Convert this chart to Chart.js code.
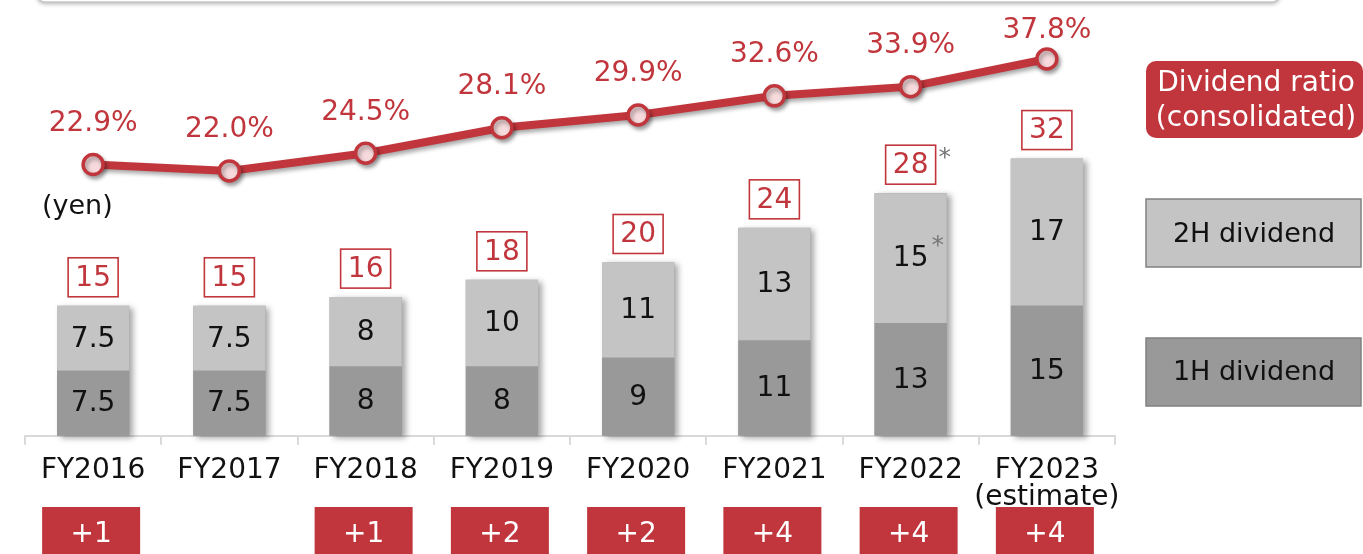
<!DOCTYPE html>
<html>
<head>
<meta charset="utf-8">
<script src="https://cdn.jsdelivr.net/npm/chart.js@4.4.1/dist/chart.umd.min.js"></script>
<style>
  html,body{margin:0;padding:0;background:#fff;overflow:hidden}
  #caja{position:relative;width:1363px;height:554px}
</style>
</head>
<body>
<div id="caja"><canvas id="grafica" width="1363" height="554"></canvas></div>
<script>
// datos
const etiquetas   = ['FY2016','FY2017','FY2018','FY2019','FY2020','FY2021','FY2022',['FY2023','(estimate)']];
const primerSem   = [7.5, 7.5, 8, 8, 9, 11, 13, 15];
const segundoSem  = [7.5, 7.5, 8, 10, 11, 13, 15, 17];
const totales     = [15, 15, 16, 18, 20, 24, 28, 32];
const ratio       = [22.9, 22.0, 24.5, 28.1, 29.9, 32.6, 33.9, 37.8];
const incremento  = [1, null, 1, 2, 2, 4, 4, 4];
const conNota     = [false, false, false, false, false, false, true, false];

const ROJO = '#C1363C';
const FUENTE = '"DejaVu Sans", Verdana, sans-serif';
const f = (s) => s + 'px ' + FUENTE;

const sombraBarras = {
  id:'sombraBarras',
  beforeDatasetsDraw(chart){
    const ctx = chart.ctx;
    const meta = chart.getDatasetMeta(1);
    const base = chart.scales.y.getPixelForValue(0);
    ctx.save();
    ctx.shadowColor = 'rgba(0,0,0,.35)';
    ctx.shadowBlur = 6;
    ctx.shadowOffsetX = 4;
    ctx.shadowOffsetY = 2;
    ctx.fillStyle = '#999';
    meta.data.forEach(b => {
      ctx.fillRect(b.x - b.width/2, b.y, b.width, base - b.y);
    });
    ctx.restore();
  },
  beforeDatasetDraw(chart, args){
    if(args.index !== 2) return;
    const ctx = chart.ctx;
    ctx.save();
    ctx.shadowColor = 'rgba(0,0,0,.35)';
    ctx.shadowBlur = 4;
    ctx.shadowOffsetX = 2;
    ctx.shadowOffsetY = 3;
  },
  afterDatasetDraw(chart, args){
    if(args.index !== 2) return;
    chart.ctx.restore();
  }
};

const rotulos = {
  id:'rotulos',
  afterDatasetsDraw(chart){
    const ctx = chart.ctx;
    const x = chart.scales.x;
    const m1 = chart.getDatasetMeta(0), m2 = chart.getDatasetMeta(1), ml = chart.getDatasetMeta(2);
    ctx.save();
    ctx.textAlign = 'center';
    ctx.textBaseline = 'middle';

    // valores dentro de las barras
    ctx.font = f(28);
    ctx.fillStyle = '#111';
    m1.data.forEach((b,i) => ctx.fillText(String(primerSem[i]), b.x, (b.y + b.base)/2 + 1));
    m2.data.forEach((b,i) => {
      ctx.fillText(String(segundoSem[i]), b.x, (b.y + b.base)/2 + 1);
      if(conNota[i]){
        ctx.save(); ctx.font = f(25); ctx.fillStyle = '#777';
        ctx.fillText('*', b.x + 27, (b.y + b.base)/2 - 12);
        ctx.restore();
      }
    });

    // total en recuadro
    m2.data.forEach((b,i) => {
      const w = 50, h = 39, bot = b.y - 9;
      ctx.fillStyle = '#fff';
      ctx.fillRect(b.x - w/2, bot - h, w, h);
      ctx.strokeStyle = ROJO; ctx.lineWidth = 1.6;
      ctx.strokeRect(b.x - w/2, bot - h, w, h);
      ctx.fillStyle = ROJO; ctx.font = f(28);
      ctx.fillText(String(totales[i]), b.x, bot - h/2 + 1);
      if(conNota[i]){
        ctx.save(); ctx.font = f(25); ctx.fillStyle = '#777';
        ctx.fillText('*', b.x + 34, bot - h + 13);
        ctx.restore();
      }
    });

    // porcentajes
    ctx.fillStyle = ROJO; ctx.font = f(28);
    ml.data.forEach((p,i) => ctx.fillText(ratio[i].toFixed(1) + '%', p.x, Math.max(31, p.y - 41)));

    // unidad
    ctx.fillStyle = '#111'; ctx.textAlign = 'left'; ctx.font = f(27);
    ctx.fillText('(yen)', 42, 207);

    // incrementos abajo
    ctx.textAlign = 'center';
    incremento.forEach((v,i) => {
      if(v == null) return;
      const cx = x.getPixelForValue(i) - 2;
      ctx.fillStyle = ROJO;
      ctx.fillRect(cx - 49, 507, 98, 50);
      ctx.fillStyle = '#fff'; ctx.font = f(28);
      ctx.fillText('+' + v, cx, 535);
    });
    ctx.restore();
  },
  afterDraw(chart){
    const ctx = chart.ctx;
    ctx.save();
    // marco de arriba
    ctx.shadowColor = 'rgba(0,0,0,.3)'; ctx.shadowBlur = 4; ctx.shadowOffsetY = 2;
    ctx.fillStyle = '#fff'; ctx.strokeStyle = '#c8c8c8'; ctx.lineWidth = 1.5;
    ctx.beginPath(); ctx.roundRect(37, -40, 1243, 42, 8); ctx.fill();
    ctx.shadowColor = 'transparent'; ctx.stroke();

    // leyenda
    ctx.textAlign = 'center'; ctx.textBaseline = 'middle';
    ctx.fillStyle = ROJO;
    ctx.beginPath(); ctx.roundRect(1146, 61, 217, 77, 10); ctx.fill();
    ctx.fillStyle = '#fff'; ctx.font = f(28);
    ctx.fillText('Dividend ratio', 1256, 84);
    ctx.fillText('(consolidated)', 1256, 119);

    ctx.lineWidth = 1.5; ctx.strokeStyle = '#808080';
    ctx.fillStyle = '#C4C4C4';
    ctx.fillRect(1146, 199, 215, 68); ctx.strokeRect(1146, 199, 215, 68);
    ctx.fillStyle = '#999999';
    ctx.fillRect(1146, 338, 215, 68); ctx.strokeRect(1146, 338, 215, 68);
    ctx.fillStyle = '#111'; ctx.font = f(27);
    ctx.fillText('2H dividend', 1254, 235);
    ctx.fillText('1H dividend', 1254, 373);
    ctx.restore();
  }
};

new Chart(document.getElementById('grafica').getContext('2d'), {
  type:'bar',
  data:{
    labels: etiquetas,
    datasets:[
      { label:'1H dividend', data: primerSem, backgroundColor:'#999999', stack:'a', order:1, yAxisID:'y',
        barPercentage:.53, categoryPercentage:1 },
      { label:'2H dividend', data: segundoSem, backgroundColor:'#C4C4C4', stack:'a', order:1, yAxisID:'y',
        barPercentage:.53, categoryPercentage:1 },
      { type:'line', label:'Dividend ratio', data: ratio, yAxisID:'y2', order:0,
        borderColor: ROJO, borderWidth:8, pointRadius:10, pointBorderWidth:3.5,
        pointBackgroundColor:'#F6DADC', pointBorderColor: ROJO, tension:0 }
    ]
  },
  options:{
    responsive:false, animation:false,
    layout:{ padding:{ left:25, right:248, top:20, bottom:31 } },
    plugins:{ legend:{ display:false }, tooltip:{ enabled:false } },
    scales:{
      x:{ offset:true,
          grid:{ offset:true, drawOnChartArea:false, tickLength:9, color:'#d9d9d9', lineWidth:2 },
          border:{ color:'#d9d9d9', width:2 },
          ticks:{ color:'#111', font:{ family:FUENTE, size:28, lineHeight:0.97 }, padding:12, maxRotation:0, autoSkip:false } },
      y:{ display:false, stacked:true, min:0, max:48 },
      y2:{ display:false, min:-15.38, max:43.31 }
    }
  },
  plugins:[sombraBarras, rotulos]
});
</script>
</body>
</html>
